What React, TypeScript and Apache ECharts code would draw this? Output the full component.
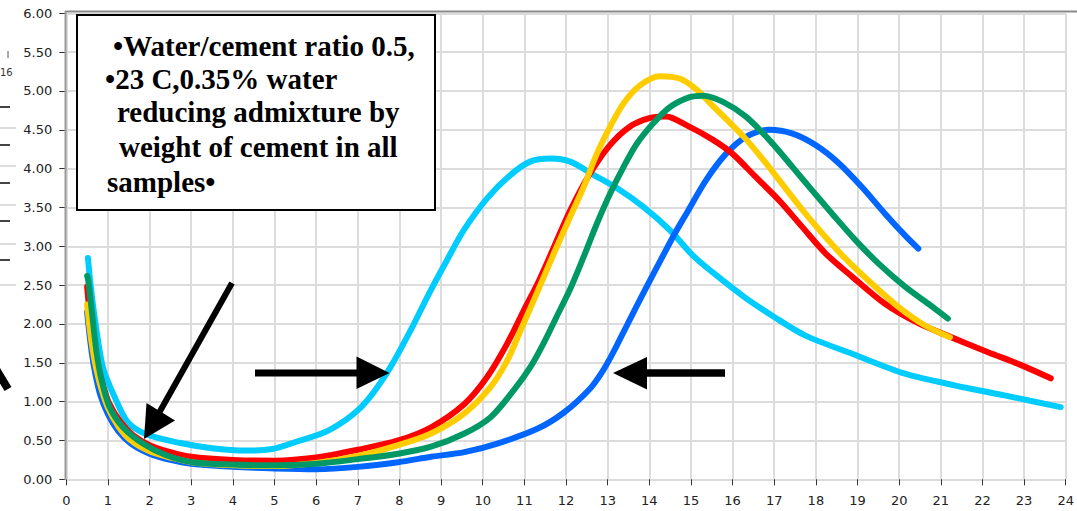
import React, { useEffect, useRef } from "react";
import * as echarts from "echarts";

// hours vs. heat-flow readings
const cyanSeries: [number, number][] = [
  [0.52, 2.85], [0.58, 2.52], [0.69, 2.05], [0.88, 1.44], [1.16, 1.06], [1.47, 0.74],
  [1.92, 0.58], [2.71, 0.47], [3.5, 0.4], [4.31, 0.37], [4.94, 0.39], [5.5, 0.48],
  [6.3, 0.63], [7.08, 0.93], [7.7, 1.37], [8.28, 1.93], [8.68, 2.36], [9.16, 2.84],
  [9.56, 3.22], [10.11, 3.62], [10.67, 3.92], [11.14, 4.09], [11.62, 4.13], [12.1, 4.09],
  [12.66, 3.92], [13.22, 3.75], [13.85, 3.51], [14.49, 3.21], [15.05, 2.88], [15.53, 2.66],
  [16.3, 2.34], [17.0, 2.09], [17.75, 1.85], [18.95, 1.6], [20.14, 1.36], [21.33, 1.21],
  [22.53, 1.08], [23.88, 0.93],
];

const redSeries: [number, number][] = [
  [0.5, 2.48], [0.56, 2.15], [0.63, 1.85], [0.72, 1.55], [0.85, 1.27], [1.02, 0.99],
  [1.3, 0.74], [1.6, 0.57], [2.0, 0.44], [2.5, 0.35], [3.0, 0.29], [4.0, 0.25],
  [5.0, 0.24], [6.0, 0.28], [7.0, 0.38], [7.97, 0.5], [8.76, 0.67], [9.56, 0.97],
  [10.11, 1.32], [10.59, 1.75], [10.99, 2.18], [11.3, 2.5], [11.62, 2.88], [12.1, 3.46],
  [12.58, 3.94], [13.05, 4.3], [13.53, 4.54], [14.0, 4.65], [14.4, 4.67], [14.89, 4.56],
  [15.53, 4.37], [16.0, 4.19], [16.56, 3.89], [17.12, 3.59], [17.67, 3.25], [18.23, 2.91],
  [18.87, 2.61], [19.66, 2.26], [20.46, 2.01], [21.2, 1.84], [22.12, 1.64], [22.93, 1.47],
  [23.64, 1.3],
];

const yellowSeries: [number, number][] = [
  [0.5, 2.25], [0.56, 1.95], [0.63, 1.68], [0.72, 1.42], [0.85, 1.15], [1.0, 0.92],
  [1.25, 0.68], [1.55, 0.5], [2.0, 0.36], [2.5, 0.28], [3.0, 0.22], [4.0, 0.18],
  [5.0, 0.17], [6.0, 0.21], [7.0, 0.3], [7.97, 0.44], [8.76, 0.59], [9.56, 0.85],
  [10.19, 1.19], [10.59, 1.53], [10.91, 1.92], [11.23, 2.31], [11.71, 2.91], [12.1, 3.38],
  [12.42, 3.76], [12.74, 4.19], [13.06, 4.54], [13.38, 4.84], [13.77, 5.07], [14.25, 5.19],
  [14.73, 5.16], [15.13, 5.02], [15.5, 4.82], [15.92, 4.6], [16.32, 4.38], [16.8, 4.07],
  [17.28, 3.74], [17.75, 3.42], [18.23, 3.12], [18.71, 2.84], [19.34, 2.52], [19.98, 2.22],
  [20.62, 1.98], [21.22, 1.83],
];

const greenSeries: [number, number][] = [
  [0.5, 2.62], [0.53, 2.55], [0.61, 2.18], [0.72, 1.66], [0.85, 1.27], [1.04, 0.93],
  [1.36, 0.67], [1.84, 0.46], [2.4, 0.31], [3.03, 0.22], [4.0, 0.19], [5.0, 0.18],
  [6.0, 0.2], [7.0, 0.26], [7.97, 0.33], [8.76, 0.42], [9.56, 0.59], [10.19, 0.8],
  [10.75, 1.15], [11.15, 1.45], [11.47, 1.76], [11.78, 2.1], [12.1, 2.45], [12.42, 2.86],
  [12.74, 3.29], [13.06, 3.68], [13.38, 4.02], [13.7, 4.32], [14.09, 4.58], [14.49, 4.79],
  [14.97, 4.92], [15.3, 4.94], [15.77, 4.86], [16.32, 4.67], [16.88, 4.37], [17.44, 4.02],
  [17.91, 3.72], [18.39, 3.42], [18.95, 3.08], [19.5, 2.78], [20.14, 2.48], [20.7, 2.26],
  [21.17, 2.07],
];

const blueSeries: [number, number][] = [
  [0.5, 2.15], [0.55, 1.9], [0.62, 1.6], [0.7, 1.35], [0.82, 1.08], [1.0, 0.84],
  [1.25, 0.62], [1.55, 0.46], [2.0, 0.33], [2.5, 0.25], [3.0, 0.2], [4.0, 0.16],
  [5.0, 0.14], [6.0, 0.13], [7.0, 0.16], [7.97, 0.22], [8.76, 0.29], [9.56, 0.35],
  [10.35, 0.46], [11.31, 0.65], [11.95, 0.86], [12.58, 1.17], [12.9, 1.41], [13.14, 1.64],
  [13.46, 1.98], [13.86, 2.4], [14.25, 2.8], [14.65, 3.2], [14.89, 3.42], [15.36, 3.85],
  [15.84, 4.19], [16.32, 4.41], [16.88, 4.5], [17.44, 4.45], [18.0, 4.3], [18.55, 4.07],
  [19.11, 3.76], [19.66, 3.42], [20.14, 3.14], [20.46, 2.97],
];

const seriesList = [
  { name: "cyan", color: "#00ccff", data: cyanSeries },
  { name: "blue", color: "#0066ff", data: blueSeries },
  { name: "red", color: "#ff0000", data: redSeries },
  { name: "yellow", color: "#ffcc00", data: yellowSeries },
  { name: "green", color: "#009966", data: greenSeries },
];

const noteLines = [
  "•Water/cement ratio 0.5,",
  "•23 C,0.35% water",
  "reducing admixture by",
  "weight of cement in all",
  "samples•",
];

export default function App() {
  const ref = useRef<HTMLDivElement>(null);
  useEffect(() => {
    const chart = echarts.init(ref.current!, null, { renderer: "svg" });
    const noteX = [113, 105, 117, 119, 107];
    const noteY = [46, 78.5, 111.5, 147, 182];
    const serif = "bold 29px 'Liberation Serif', 'Times New Roman', serif";
    chart.setOption({
      animation: false,
      backgroundColor: "#ffffff",
      grid: { left: 66.3, right: 5.3, top: 13.3, bottom: 31.7 },
      xAxis: {
        type: "value",
        min: 0,
        max: 24,
        interval: 1,
        offset: 4,
        axisLine: { show: false },
        axisTick: { show: true, length: 6, lineStyle: { color: "#333", width: 1 } },
        axisLabel: { color: "#222", fontSize: 13, fontFamily: "DejaVu Sans", margin: 11 },
        splitLine: { show: true, lineStyle: { color: "#dcdcdc", width: 2 } },
      },
      yAxis: {
        type: "value",
        min: 0,
        max: 6,
        interval: 0.5,
        offset: 4,
        axisLine: { show: false },
        axisTick: { show: true, length: 7, lineStyle: { color: "#333", width: 1 } },
        axisLabel: {
          color: "#222",
          fontSize: 13,
          fontFamily: "DejaVu Sans",
          margin: 10,
          formatter: (v: number) => v.toFixed(2),
        },
        splitLine: { show: true, lineStyle: { color: "#dcdcdc", width: 2 } },
      },
      series: seriesList.map((s, i) => ({
        name: s.name,
        type: "line",
        data: s.data,
        smooth: 0.3,
        showSymbol: false,
        z: 2 + i,
        lineStyle: { color: s.color, width: 6, cap: "round", join: "round" },
        itemStyle: { color: s.color },
      })),
      graphic: [
        // plot borders
        { type: "line", shape: { x1: 65, y1: 11.5, x2: 1077, y2: 11.5 }, style: { stroke: "#8a8a8a", lineWidth: 2 }, z: 10 },
        { type: "line", shape: { x1: 65.5, y1: 11, x2: 65.5, y2: 480 }, style: { stroke: "#9a9a9a", lineWidth: 2 }, z: 10 },
        // fragments of neighbouring figure at left edge
        { type: "text", style: { text: "16", x: 0, y: 72, align: "left", verticalAlign: "middle", font: "10px 'DejaVu Sans'", fill: "#333" }, z: 10 },
        { type: "line", shape: { x1: 8, y1: 51, x2: 8, y2: 58 }, style: { stroke: "#555", lineWidth: 1 }, z: 10 },
        ...[107, 145, 183, 221, 260].map((y) => ({
          type: "line", shape: { x1: 0, y1: y, x2: 10, y2: y }, style: { stroke: "#444", lineWidth: 2 }, z: 10,
        })),
        ...[128, 166, 205, 244, 285].map((y) => ({
          type: "line", shape: { x1: 0, y1: y, x2: 16, y2: y }, style: { stroke: "#dddddd", lineWidth: 2 }, z: 1,
        })),
        { type: "line", shape: { x1: -4, y1: 369, x2: 8, y2: 389 }, style: { stroke: "#000", lineWidth: 8 }, z: 10 },
        // annotation box
        { type: "rect", shape: { x: 77, y: 15, width: 358, height: 195 }, style: { fill: "#fff", stroke: "#000", lineWidth: 2 }, z: 20 },
        ...noteLines.map((t, i) => ({
          type: "text",
          style: { text: t, x: noteX[i], y: noteY[i], verticalAlign: "middle", font: serif, fill: "#000" },
          z: 21,
        })),
        // arrows
        { type: "line", shape: { x1: 232, y1: 283, x2: 159, y2: 413 }, style: { stroke: "#000", lineWidth: 6 }, z: 20 },
        { type: "polygon", shape: { points: [[144, 439], [146.5, 403], [175, 420.5]] }, style: { fill: "#000" }, z: 20 },
        { type: "line", shape: { x1: 255, y1: 373, x2: 360, y2: 373 }, style: { stroke: "#000", lineWidth: 7 }, z: 20 },
        { type: "polygon", shape: { points: [[356.5, 356.5], [356.5, 389], [389.5, 373]] }, style: { fill: "#000" }, z: 20 },
        { type: "line", shape: { x1: 725, y1: 373, x2: 644, y2: 373 }, style: { stroke: "#000", lineWidth: 7.5 }, z: 20 },
        { type: "polygon", shape: { points: [[647, 357], [647, 389.5], [613, 373]] }, style: { fill: "#000" }, z: 20 },
      ],
    });
    return () => chart.dispose();
  }, []);
  return (
    <div
      ref={ref}
      style={{ position: "fixed", left: 0, top: 0, width: 1077, height: 511, background: "#fff" }}
    />
  );
}
